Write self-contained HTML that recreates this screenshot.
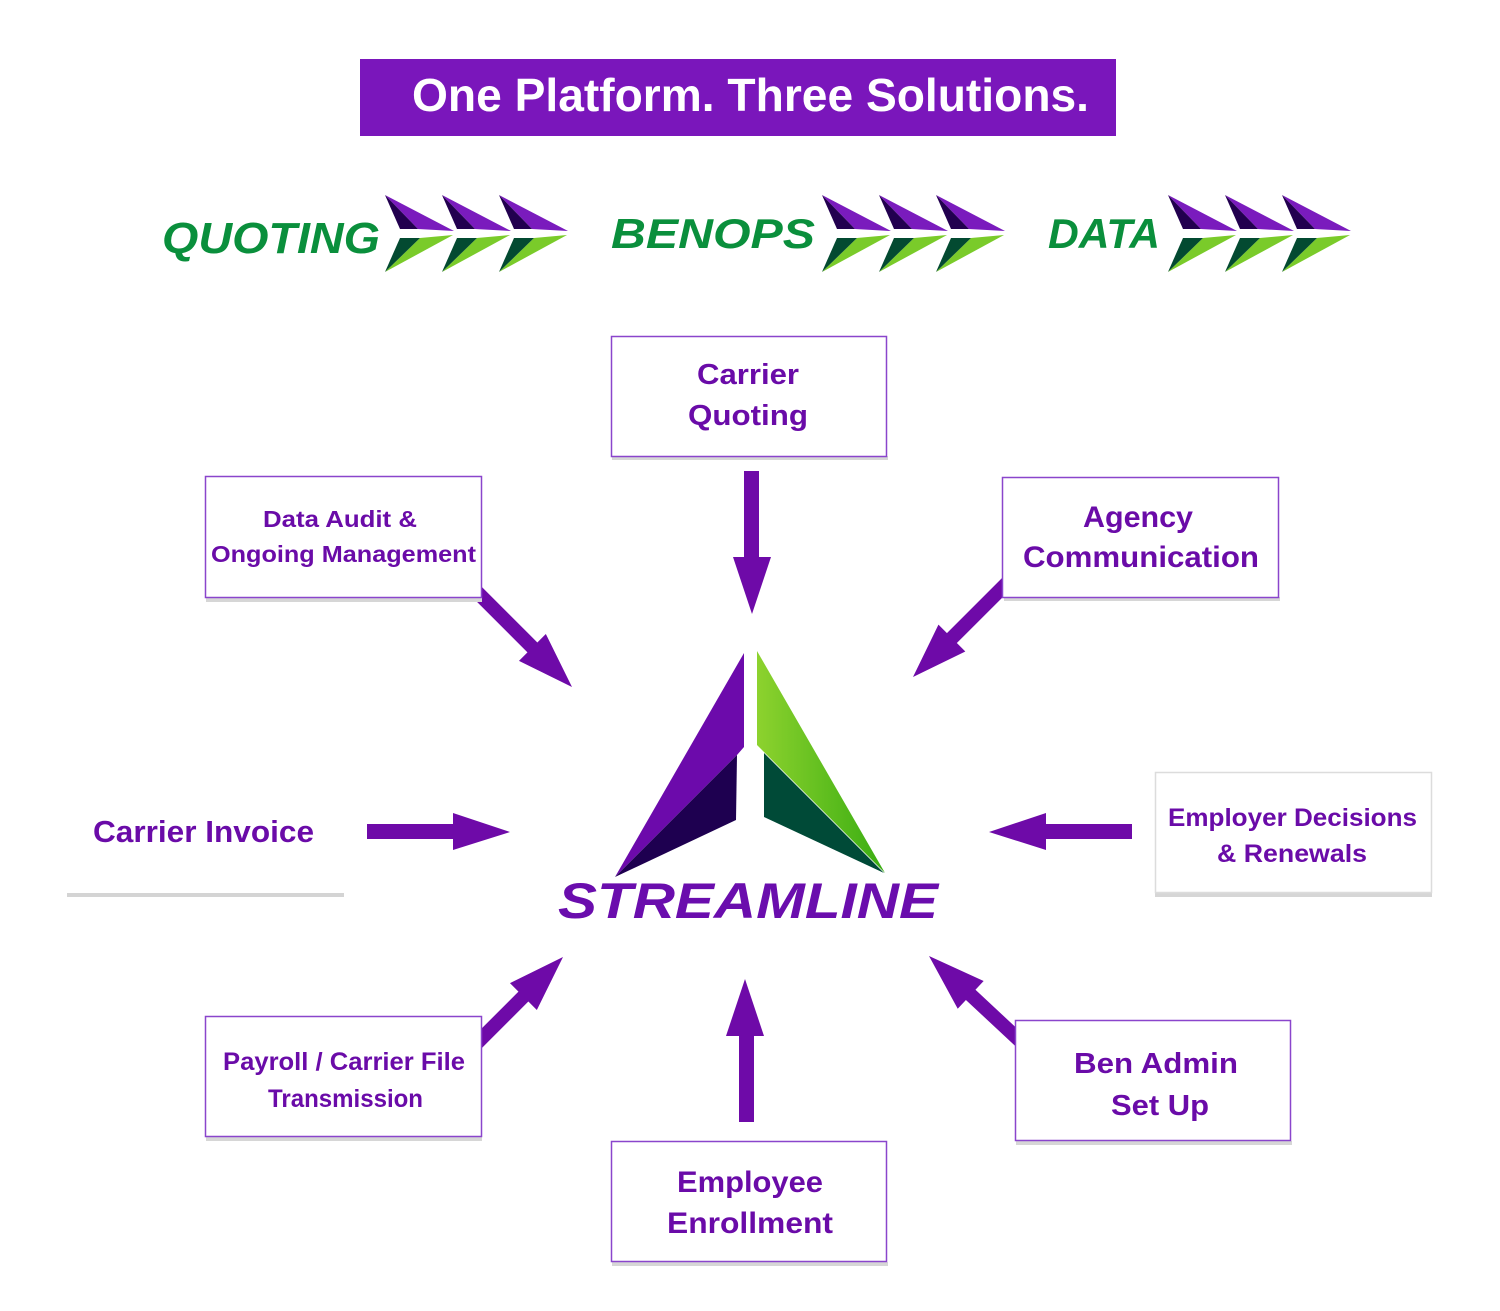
<!DOCTYPE html>
<html>
<head>
<meta charset="utf-8">
<style>
  html, body { margin:0; padding:0; background:#ffffff; }
  body { width:1500px; height:1311px; overflow:hidden; }
  svg { display:block; }
  .bx { font-family:"Liberation Sans", Arial, sans-serif; font-weight:bold; fill:#6a0ba8; }
</style>
</head>
<body>
<svg width="1500" height="1311" viewBox="0 0 1500 1311" xmlns="http://www.w3.org/2000/svg">
  <defs>
    <g id="chev">
      <polygon points="0,0 69,36 33,34" fill="#7a1bbd"/>
      <polygon points="0,0 33,34 15,34" fill="#22004f"/>
      <polygon points="0,77 35,43 68,40" fill="#7acb2a"/>
      <polygon points="0,77 15,43 35,43" fill="#034a31"/>
    </g>
    <linearGradient id="lg" x1="0" y1="0" x2="1" y2="0">
      <stop offset="0" stop-color="#8dd22e"/>
      <stop offset="1" stop-color="#3aad12"/>
    </linearGradient>
  </defs>

  <!-- Title -->
  <rect x="360" y="59" width="756" height="77" fill="#7a16bb"/>
  <text x="412" y="111" font-family="Liberation Sans, Arial, sans-serif" font-weight="bold" font-size="46" fill="#ffffff" textLength="677" lengthAdjust="spacingAndGlyphs">One Platform. Three Solutions.</text>

  <!-- Category labels -->
  <text x="162" y="253" font-family="Liberation Sans, Arial, sans-serif" font-weight="bold" font-style="italic" font-size="44" fill="#0a8f3c" textLength="218" lengthAdjust="spacingAndGlyphs">QUOTING</text>
  <text x="611" y="248" font-family="Liberation Sans, Arial, sans-serif" font-weight="bold" font-style="italic" font-size="42" fill="#0a8f3c" textLength="204" lengthAdjust="spacingAndGlyphs">BENOPS</text>
  <text x="1048" y="248" font-family="Liberation Sans, Arial, sans-serif" font-weight="bold" font-style="italic" font-size="42" fill="#0a8f3c" textLength="112" lengthAdjust="spacingAndGlyphs">DATA</text>

  <!-- Chevrons -->
  <use href="#chev" x="385" y="195"/>
  <use href="#chev" x="442" y="195"/>
  <use href="#chev" x="499" y="195"/>
  <use href="#chev" x="822" y="195"/>
  <use href="#chev" x="879" y="195"/>
  <use href="#chev" x="936" y="195"/>
  <use href="#chev" x="1168" y="195"/>
  <use href="#chev" x="1225" y="195"/>
  <use href="#chev" x="1282" y="195"/>

  <!-- Arrows -->
  <g fill="#6e0aa8">
    <!-- down from Carrier Quoting -->
    <polygon points="744,471 759,471 759,557 771,557 752,614 733,557 744,557"/>
    <!-- up to center from Employee Enrollment -->
    <polygon points="739,1122 754,1122 754,1036 764,1036 745,979 726,1036 739,1036"/>
    <!-- right from Carrier Invoice -->
    <polygon points="367,824 453,824 453,813 510,832 453,850 453,839 367,839"/>
    <!-- left from Employer -->
    <polygon points="1132,824 1046,824 1046,813 989,832 1046,850 1046,839 1132,839"/>
    <!-- diagonal: Data Audit -->
    <g transform="translate(572,687) rotate(45)">
      <polygon points="0,0 -56,-19 -56,-7 -150,-7 -150,7 -56,7 -56,19"/>
    </g>
    <!-- diagonal: Agency -->
    <g transform="translate(913,677) rotate(135)">
      <polygon points="0,0 -55,-19 -55,-7 -140,-7 -140,7 -55,7 -55,19"/>
    </g>
    <!-- diagonal: Payroll -->
    <g transform="translate(563,957) rotate(-45)">
      <polygon points="0,0 -56,-19 -56,-7 -130,-7 -130,7 -56,7 -56,19"/>
    </g>
    <!-- diagonal: Ben Admin -->
    <g transform="translate(929,956) rotate(223)">
      <polygon points="0,0 -57,-19 -57,-7 -130,-7 -130,7 -57,7 -57,19"/>
    </g>
  </g>

  <!-- Boxes (shadows + borders) -->
  <g>
    <!-- Carrier Quoting -->
    <rect x="612" y="456" width="276" height="4" fill="#d6d6d6"/>
    <rect x="611.5" y="336.5" width="275" height="120" fill="#ffffff" stroke="#8a45cc" stroke-width="1.5"/>
    <!-- Data Audit -->
    <rect x="206" y="597" width="276" height="5" fill="#d6d6d6"/>
    <rect x="205.5" y="476.5" width="276" height="121" fill="#ffffff" stroke="#8a45cc" stroke-width="1.5"/>
    <!-- Agency -->
    <rect x="1004" y="597" width="276" height="4" fill="#d6d6d6"/>
    <rect x="1002.5" y="477.5" width="276" height="120" fill="#ffffff" stroke="#8a45cc" stroke-width="1.5"/>
    <!-- Employer -->
    <rect x="1155" y="893" width="277" height="4" fill="#d6d6d6"/>
    <rect x="1155.5" y="772.5" width="276" height="120" fill="#ffffff" stroke="#dcdcdc" stroke-width="1.5"/>
    <!-- Payroll -->
    <rect x="206" y="1137" width="276" height="4" fill="#d6d6d6"/>
    <rect x="205.5" y="1016.5" width="276" height="120" fill="#ffffff" stroke="#8a45cc" stroke-width="1.5"/>
    <!-- Ben Admin -->
    <rect x="1016" y="1141" width="276" height="4" fill="#d6d6d6"/>
    <rect x="1015.5" y="1020.5" width="275" height="120" fill="#ffffff" stroke="#8a45cc" stroke-width="1.5"/>
    <!-- Employee Enrollment -->
    <rect x="612" y="1262" width="276" height="4" fill="#d6d6d6"/>
    <rect x="611.5" y="1141.5" width="275" height="120" fill="#ffffff" stroke="#8a45cc" stroke-width="1.5"/>
  </g>

  <!-- Carrier Invoice underline -->
  <rect x="67" y="893" width="277" height="4" fill="#d4d4d4"/>

  <!-- Box texts -->
  <text class="bx" x="697" y="384" font-size="29" textLength="102" lengthAdjust="spacingAndGlyphs">Carrier</text>
  <text class="bx" x="688" y="425" font-size="29" textLength="120" lengthAdjust="spacingAndGlyphs">Quoting</text>

  <text class="bx" x="263" y="527" font-size="23.5" textLength="154" lengthAdjust="spacingAndGlyphs">Data Audit &amp;</text>
  <text class="bx" x="211" y="562" font-size="23.5" textLength="265" lengthAdjust="spacingAndGlyphs">Ongoing Management</text>

  <text class="bx" x="1083" y="527" font-size="30" textLength="110" lengthAdjust="spacingAndGlyphs">Agency</text>
  <text class="bx" x="1023" y="567" font-size="30" textLength="236" lengthAdjust="spacingAndGlyphs">Communication</text>

  <text class="bx" x="93" y="842" font-size="31" textLength="221" lengthAdjust="spacingAndGlyphs">Carrier Invoice</text>

  <text class="bx" x="1168" y="826" font-size="25" textLength="249" lengthAdjust="spacingAndGlyphs">Employer Decisions</text>
  <text class="bx" x="1217" y="862" font-size="25" textLength="150" lengthAdjust="spacingAndGlyphs">&amp; Renewals</text>

  <text class="bx" x="223" y="1070" font-size="25" textLength="242" lengthAdjust="spacingAndGlyphs">Payroll / Carrier File</text>
  <text class="bx" x="268" y="1107" font-size="25" textLength="155" lengthAdjust="spacingAndGlyphs">Transmission</text>

  <text class="bx" x="1074" y="1073" font-size="29" textLength="164" lengthAdjust="spacingAndGlyphs">Ben Admin</text>
  <text class="bx" x="1111" y="1115" font-size="29" textLength="98" lengthAdjust="spacingAndGlyphs">Set Up</text>

  <text class="bx" x="677" y="1192" font-size="30" textLength="146" lengthAdjust="spacingAndGlyphs">Employee</text>
  <text class="bx" x="667" y="1233" font-size="30" textLength="166" lengthAdjust="spacingAndGlyphs">Enrollment</text>

  <!-- Streamline logo -->
  <polygon points="744,653 744,747 737,755 615,877" fill="#6c0aab"/>
  <polygon points="737,755 736,820 615,877" fill="#1e0050"/>
  <polygon points="757,651 885,873 757,745" fill="url(#lg)"/>
  <polygon points="764,753 764,817 884,873" fill="#004a37"/>
  <text x="558" y="918" font-family="Liberation Sans, Arial, sans-serif" font-weight="bold" font-style="italic" font-size="50" fill="#6a0dad" textLength="380" lengthAdjust="spacingAndGlyphs">STREAMLINE</text>
</svg>
</body>
</html>
